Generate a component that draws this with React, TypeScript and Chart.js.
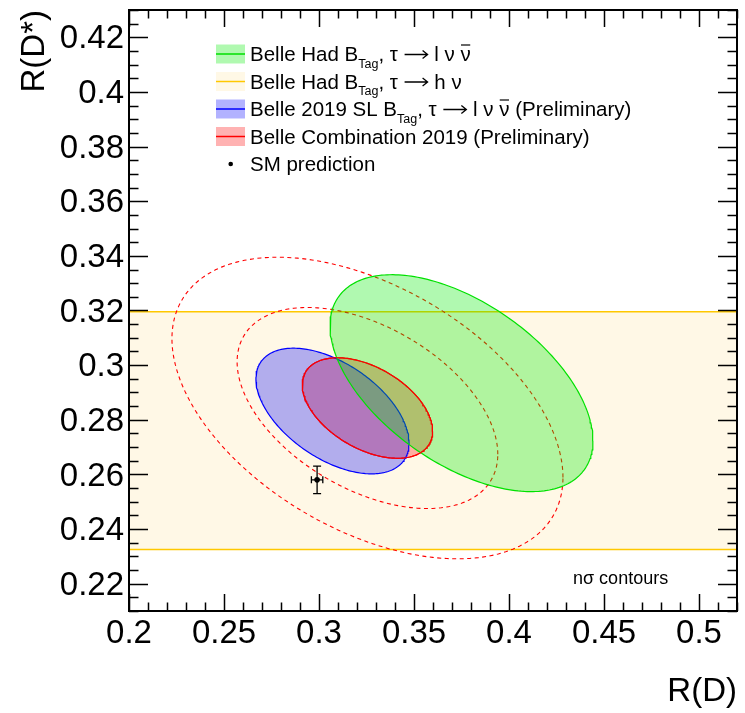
import React, { useEffect, useRef } from 'react';
import { Chart, registerables } from 'chart.js';

Chart.register(...registerables);

// ---- axes ----
const X_RANGE = [0.2, 0.52];
const Y_RANGE = [0.21, 0.43];
const X_TICKS = [0.2, 0.25, 0.3, 0.35, 0.4, 0.45, 0.5];
const Y_TICKS = [0.22, 0.24, 0.26, 0.28, 0.3, 0.32, 0.34, 0.36, 0.38, 0.4, 0.42];
const X_MINOR_STEP = 0.01;
const Y_MINOR_STEP = 0.005;

// ---- measurements: [R(D), R(D*), sigma R(D), sigma R(D*), correlation] ----
const HAD_LEPTONIC = [0.375, 0.2934, 0.0692, 0.0397, -0.53];
const SL_2019 = [0.3071, 0.2832, 0.0403, 0.023, -0.51];
const COMBINATION = [0.3255, 0.2843, 0.0343, 0.0184, -0.46];
const COMBINATION_NSIGMA = [2, 3];
// Belle Had B_Tag, tau -> h nu : R(D*) band [low, high]
const HAD_HADRONIC_BAND = [0.2325, 0.3195];
// SM prediction: [value, error]
const SM_RD = [0.299, 0.003];
const SM_RDS = [0.258, 0.005];

const LEGEND_LABELS = [
  [{ t: 'Belle Had B' }, { t: 'Tag', sub: true }, { t: ', τ ' }, { arrow: true }, { t: ' l ν ' }, { t: 'ν', bar: true }],
  [{ t: 'Belle Had B' }, { t: 'Tag', sub: true }, { t: ', τ ' }, { arrow: true }, { t: ' h ν' }],
  [{ t: 'Belle 2019 SL B' }, { t: 'Tag', sub: true }, { t: ', τ ' }, { arrow: true }, { t: ' l ν ' }, { t: 'ν', bar: true }, { t: ' (Preliminary)' }],
  [{ t: 'Belle Combination 2019 (Preliminary)' }],
  [{ t: 'SM prediction' }],
];

// ---- styles ----
const FONT = '"Liberation Sans", Arial, Helvetica, sans-serif';
const GREEN_LINE = 'rgb(0,225,0)';
const GREEN_FILL = 'rgba(0,235,0,0.31)';
const BLUE_LINE = 'rgb(0,0,255)';
const BLUE_FILL = 'rgba(0,0,255,0.3)';
const RED_LINE = 'rgb(255,0,0)';
const RED_FILL = 'rgba(255,0,0,0.3)';
const GOLD_LINE = 'rgb(255,200,0)';
const BAND_FILL = 'rgb(255,248,230)';
const LEG_SIZE = 20.5;

function ellipse(p: number[], n: number, steps = 240) {
  const [cx, cy, sx, sy, r] = p;
  const s = Math.sqrt(1 - r * r);
  const pts: { x: number; y: number }[] = [];
  for (let i = 0; i <= steps; i++) {
    const t = (2 * Math.PI * i) / steps;
    pts.push({
      x: cx + n * sx * Math.cos(t),
      y: cy + n * sy * (r * Math.cos(t) + s * Math.sin(t)),
    });
  }
  return pts;
}

const fmt = (v: any) => String(+Number(v).toFixed(3));

function drawRich(ctx: CanvasRenderingContext2D, x: number, y: number, segs: any[]) {
  let cx = x;
  ctx.strokeStyle = '#000';
  for (const s of segs) {
    if (s.arrow) {
      const w = 25;
      const ay = y - 6.5;
      ctx.beginPath();
      ctx.lineWidth = 1.3;
      ctx.moveTo(cx + 1, ay);
      ctx.lineTo(cx + w - 1, ay);
      ctx.moveTo(cx + w - 6, ay - 4);
      ctx.lineTo(cx + w - 1, ay);
      ctx.lineTo(cx + w - 6, ay + 4);
      ctx.stroke();
      cx += w;
      continue;
    }
    ctx.font = s.sub ? `12.5px ${FONT}` : `${LEG_SIZE}px ${FONT}`;
    const yy = s.sub ? y + 6.5 : y;
    ctx.fillText(s.t, cx, yy);
    const w = ctx.measureText(s.t).width;
    if (s.bar) {
      ctx.beginPath();
      ctx.lineWidth = 1.2;
      ctx.moveTo(cx + 0.5, y - 16);
      ctx.lineTo(cx + w - 0.5, y - 16);
      ctx.stroke();
    }
    cx += w;
  }
}

const rootPlugin = {
  id: 'rootStyle',
  afterDatasetsDraw(chart: any) {
    const { ctx, scales } = chart;
    const xs = scales.x;
    const ys = scales.y;
    // SM error bars
    const px = xs.getPixelForValue(SM_RD[0]);
    const py = ys.getPixelForValue(SM_RDS[0]);
    const x1 = xs.getPixelForValue(SM_RD[0] - SM_RD[1]);
    const x2 = xs.getPixelForValue(SM_RD[0] + SM_RD[1]);
    const y1 = ys.getPixelForValue(SM_RDS[0] - SM_RDS[1]);
    const y2 = ys.getPixelForValue(SM_RDS[0] + SM_RDS[1]);
    ctx.save();
    ctx.strokeStyle = '#000';
    ctx.lineWidth = 1.3;
    ctx.beginPath();
    ctx.moveTo(x1, py); ctx.lineTo(x2, py);
    ctx.moveTo(x1, py - 3.5); ctx.lineTo(x1, py + 3.5);
    ctx.moveTo(x2, py - 3.5); ctx.lineTo(x2, py + 3.5);
    ctx.moveTo(px, y1); ctx.lineTo(px, y2);
    ctx.moveTo(px - 4, y1); ctx.lineTo(px + 4, y1);
    ctx.moveTo(px - 4, y2); ctx.lineTo(px + 4, y2);
    ctx.stroke();
    ctx.restore();
  },
  afterDraw(chart: any) {
    const { ctx, chartArea: a, scales } = chart;
    const xs = scales.x;
    const ys = scales.y;
    ctx.save();
    // ticks
    ctx.strokeStyle = '#000';
    ctx.lineWidth = 1.5;
    ctx.beginPath();
    const nx = Math.round((X_RANGE[1] - X_RANGE[0]) / X_MINOR_STEP);
    for (let k = 0; k <= nx; k++) {
      const v = X_RANGE[0] + k * X_MINOR_STEP;
      const major = X_TICKS.some((t) => Math.abs(t - v) < 1e-6);
      const len = major ? 17 : 8.5;
      const p = Math.round(xs.getPixelForValue(v)) + 0.5;
      ctx.moveTo(p, a.bottom); ctx.lineTo(p, a.bottom - len);
      ctx.moveTo(p, a.top); ctx.lineTo(p, a.top + len);
    }
    const ny = Math.round((Y_RANGE[1] - Y_RANGE[0]) / Y_MINOR_STEP);
    for (let k = 0; k <= ny; k++) {
      const v = Y_RANGE[0] + k * Y_MINOR_STEP;
      const major = Y_TICKS.some((t) => Math.abs(t - v) < 1e-6);
      const len = major ? 19 : 9.5;
      const p = Math.round(ys.getPixelForValue(v)) + 0.5;
      ctx.moveTo(a.left, p); ctx.lineTo(a.left + len, p);
      ctx.moveTo(a.right, p); ctx.lineTo(a.right - len, p);
    }
    ctx.stroke();
    // frame
    ctx.lineWidth = 2;
    ctx.strokeRect(a.left, a.top, a.right - a.left, a.bottom - a.top);

    // legend
    const boxes = [
      { fill: GREEN_FILL, line: GREEN_LINE },
      { fill: BAND_FILL, line: GOLD_LINE },
      { fill: BLUE_FILL, line: BLUE_LINE },
      { fill: RED_FILL, line: RED_LINE },
      null,
    ];
    const bx = a.left + 87;
    ctx.fillStyle = '#000';
    ctx.textAlign = 'left';
    ctx.textBaseline = 'alphabetic';
    LEGEND_LABELS.forEach((segs, i) => {
      const cy = a.top + 44 + 27.5 * i;
      const b = boxes[i];
      if (b) {
        ctx.fillStyle = b.fill;
        ctx.fillRect(bx, cy - 9.5, 29, 19);
        ctx.strokeStyle = b.line;
        ctx.lineWidth = 1.5;
        ctx.beginPath();
        ctx.moveTo(bx, cy); ctx.lineTo(bx + 29, cy);
        ctx.stroke();
      } else {
        ctx.fillStyle = '#000';
        ctx.beginPath();
        ctx.arc(bx + 14.7, cy, 2.3, 0, Math.PI * 2);
        ctx.fill();
      }
      ctx.fillStyle = '#000';
      drawRich(ctx, bx + 34, cy + 7, segs);
    });

    // n sigma label
    ctx.font = `18px ${FONT}`;
    ctx.fillStyle = '#000';
    ctx.fillText('nσ contours', a.right - 164, a.bottom - 27);
    ctx.restore();
  },
};

export default function App() {
  const ref = useRef<HTMLCanvasElement>(null);
  useEffect(() => {
    document.body.style.margin = '0';
    const canvas = ref.current!;
    const line = (data: any[], extra: any) => ({
      data,
      pointRadius: 0,
      borderWidth: 1.2,
      tension: 0,
      ...extra,
    });
    const bandPts = [
      { x: X_RANGE[0], y: HAD_HADRONIC_BAND[0] },
      { x: X_RANGE[1], y: HAD_HADRONIC_BAND[0] },
      { x: X_RANGE[1], y: HAD_HADRONIC_BAND[1] },
      { x: X_RANGE[0], y: HAD_HADRONIC_BAND[1] },
      { x: X_RANGE[0], y: HAD_HADRONIC_BAND[0] },
    ];
    const comb1 = ellipse(COMBINATION, 1);
    const drawSeq: any[] = [
      line(bandPts, { label: 'Belle Had B_Tag, tau -> h nu', borderColor: GOLD_LINE, backgroundColor: BAND_FILL, fill: 'shape', borderWidth: 1.5 }),
      ...COMBINATION_NSIGMA.slice().reverse().map((n) =>
        line(ellipse(COMBINATION, n), { label: `Combination ${n} sigma`, borderColor: RED_LINE, borderDash: [4, 3.5], fill: false, borderWidth: 1.1 })
      ),
      line(comb1, { label: 'Belle Combination 2019', borderColor: RED_LINE, backgroundColor: RED_FILL, fill: 'shape' }),
      line(ellipse(SL_2019, 1), { label: 'Belle 2019 SL', borderColor: BLUE_LINE, backgroundColor: BLUE_FILL, fill: 'shape' }),
      line(ellipse(HAD_LEPTONIC, 1), { label: 'Belle Had lep', borderColor: GREEN_LINE, backgroundColor: GREEN_FILL, fill: 'shape' }),
      line(comb1, { label: 'Belle Combination 2019 contour', borderColor: RED_LINE, fill: false }),
      {
        label: 'SM prediction',
        data: [{ x: SM_RD[0], y: SM_RDS[0] }],
        showLine: false,
        pointRadius: 2.8,
        pointBackgroundColor: '#000',
        pointBorderColor: '#000',
        pointBorderWidth: 0,
      },
    ];
    drawSeq.forEach((d, i) => (d.order = drawSeq.length - i));

    const chart = new Chart(canvas, {
      type: 'line',
      data: { datasets: drawSeq },
      options: {
        animation: false,
        responsive: false,
        devicePixelRatio: 1,
        events: [],
        layout: { padding: { top: 10, right: 8, left: 0, bottom: 0 } },
        font: { family: FONT },
        plugins: { legend: { display: false }, tooltip: { enabled: false } },
        scales: {
          x: {
            type: 'linear',
            min: X_RANGE[0],
            max: X_RANGE[1],
            grid: { display: false, drawTicks: false },
            border: { display: false },
            afterBuildTicks: (s: any) => { s.ticks = X_TICKS.map((v) => ({ value: v })); },
            afterFit: (s: any) => { s.height = 102; s.paddingLeft = 0; s.paddingRight = 0; },
            ticks: { font: { size: 33, family: FONT }, color: '#000', padding: 3, autoSkip: false, maxRotation: 0, callback: fmt },
            title: { display: true, text: 'R(D)', align: 'end', font: { size: 33, family: FONT }, color: '#000', padding: { top: 0, bottom: 1 } },
          },
          y: {
            type: 'linear',
            min: Y_RANGE[0],
            max: Y_RANGE[1],
            grid: { display: false, drawTicks: false },
            border: { display: false },
            afterBuildTicks: (s: any) => { s.ticks = Y_TICKS.map((v) => ({ value: v })); },
            afterFit: (s: any) => { s.width = 129; s.paddingTop = 0; s.paddingBottom = 0; },
            ticks: { font: { size: 33, family: FONT }, color: '#000', padding: 5, labelOffset: 2, autoSkip: false, callback: fmt },
            title: { display: true, text: 'R(D*)', align: 'end', font: { size: 33, family: FONT }, color: '#000', padding: { top: 15, bottom: 0 } },
          },
        },
      } as any,
      plugins: [rootPlugin],
    });
    return () => chart.destroy();
  }, []);
  return <canvas ref={ref} width={745} height={713} style={{ display: 'block', width: 745, height: 713 }} />;
}
